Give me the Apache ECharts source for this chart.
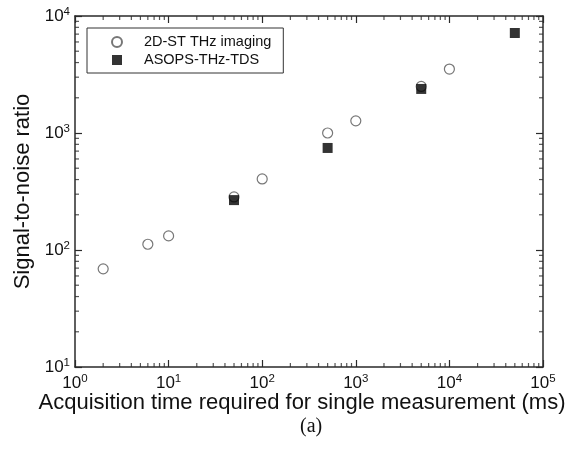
<!DOCTYPE html>
<html>
<head>
<meta charset="utf-8">
<script src="https://cdn.jsdelivr.net/npm/echarts@6/dist/echarts.min.js"></script>
<style>html,body{margin:0;padding:0;background:#fff}#c{width:570px;height:449px}</style>
</head>
<body>
<div id="c"></div>
<script>
// Data
const seriesNames = ['2D-ST THz imaging', 'ASOPS-THz-TDS'];
const stTimes = [2, 6, 10, 50, 100, 500, 1000, 5000, 10000];
const stSNR   = [69, 112, 132, 284, 405, 1000, 1270, 2500, 3520];
const asopsTimes = [50, 500, 5000, 50000];
const asopsSNR   = [267, 745, 2380, 7160];
const xRange = [1, 100000];
const yRange = [10, 10000];
const xTitle = 'Acquisition time required for single measurement (ms)';
const yTitle = 'Signal-to-noise ratio';
const panelLabel = '(a)';

const FONT = 'Liberation Sans, Arial, sans-serif';
const AX = '#2a2a2a';

// minor tick positions (2..9 within each decade)
function minorVals(lo, hi) {
  const out = [];
  for (let d = lo; d < hi; d *= 10) for (let k = 2; k <= 9; k++) out.push(k * d);
  return out;
}
const xMinor = minorVals(xRange[0], xRange[1]);
const yMinor = minorVals(yRange[0], yRange[1]);

const supFmt = v => '{b|10}{s|' + Math.round(Math.log10(v)) + '}';
const rich = {
  b: { fontSize: 17, fontFamily: FONT, color: '#111' },
  s: { fontSize: 11.5, fontFamily: FONT, color: '#111', verticalAlign: 'bottom', padding: [0, 0, 9, 0] }
};

const tickSeries = (data, size, offset) => ({
  type: 'scatter', silent: true, symbol: 'rect', symbolSize: size, symbolOffset: offset,
  itemStyle: { color: AX }, data: data, z: 1, clip: false, legendHoverLink: false,
  emphasis: { disabled: true }
});

const commonAxis = {
  type: 'log', logBase: 10,
  axisLine: { show: true, lineStyle: { color: AX, width: 1.5 } },
  axisTick: { show: true, inside: true, length: 7, lineStyle: { color: AX, width: 1.2 } },
  splitLine: { show: false },
  minorTick: { show: false }
};

const chart = echarts.init(document.getElementById('c'), null, { renderer: 'canvas' });
chart.setOption({
  animation: false,
  backgroundColor: '#fff',
  grid: { left: 75, right: 27, top: 16, bottom: 82 },
  xAxis: [
    Object.assign({}, commonAxis, {
      position: 'bottom', min: xRange[0], max: xRange[1],
      axisLabel: { formatter: supFmt, rich: rich, margin: 6 },
      name: xTitle, nameLocation: 'middle', nameGap: 25, nameMoveOverlap: false,
      nameTextStyle: { fontSize: 22, fontFamily: FONT, color: '#111', padding: [0, 14, 0, 0] }
    }),
    Object.assign({}, commonAxis, {
      position: 'top', min: xRange[0], max: xRange[1], axisLabel: { show: false }
    })
  ],
  yAxis: [
    Object.assign({}, commonAxis, {
      position: 'left', min: yRange[0], max: yRange[1],
      axisLabel: { formatter: supFmt, rich: rich, margin: 5 },
      name: yTitle, nameLocation: 'middle', nameGap: 37, nameRotate: 90,
      nameTextStyle: { fontSize: 22, fontFamily: FONT, color: '#111' }
    }),
    Object.assign({}, commonAxis, {
      position: 'right', min: yRange[0], max: yRange[1], axisLabel: { show: false }
    })
  ],
  legend: {
    data: [
      { name: seriesNames[0], icon: 'circle' },
      { name: seriesNames[1], icon: 'path://M0,0L10,0L10,10L0,10Z' }
    ],
    orient: 'vertical', left: 87, top: 28,
    itemWidth: 44, itemHeight: 10, itemGap: 0,
    padding: [5, 12, 4, 24],
    borderColor: '#333', borderWidth: 1, backgroundColor: '#fff',
    textStyle: { fontSize: 14.5, fontFamily: FONT, color: '#111', lineHeight: 18 },
    selectedMode: false
  },
  graphic: [{
    type: 'text', left: 300, top: 417,
    style: { text: panelLabel, fontSize: 20, fontFamily: 'Liberation Serif, Times New Roman, serif', fill: '#111' }
  }],
  series: [
    tickSeries(xMinor.map(v => [v, yRange[0]]), [1.2, 4], [0, -2]),
    tickSeries(xMinor.map(v => [v, yRange[1]]), [1.2, 4], [0, 2]),
    tickSeries(yMinor.map(v => [xRange[0], v]), [4, 1.2], [2, 0]),
    tickSeries(yMinor.map(v => [xRange[1], v]), [4, 1.2], [-2, 0]),
    {
      name: seriesNames[0], type: 'scatter', symbol: 'circle', symbolSize: 10,
      itemStyle: { color: '#fff', borderColor: '#555', borderWidth: 1.2 },
      data: stTimes.map((t, i) => [t, stSNR[i]]), z: 3
    },
    {
      name: seriesNames[1], type: 'scatter', symbol: 'rect', symbolSize: 10,
      itemStyle: { color: '#000' },
      data: asopsTimes.map((t, i) => [t, asopsSNR[i]]), z: 4
    }
  ]
});
</script>
</body>
</html>
